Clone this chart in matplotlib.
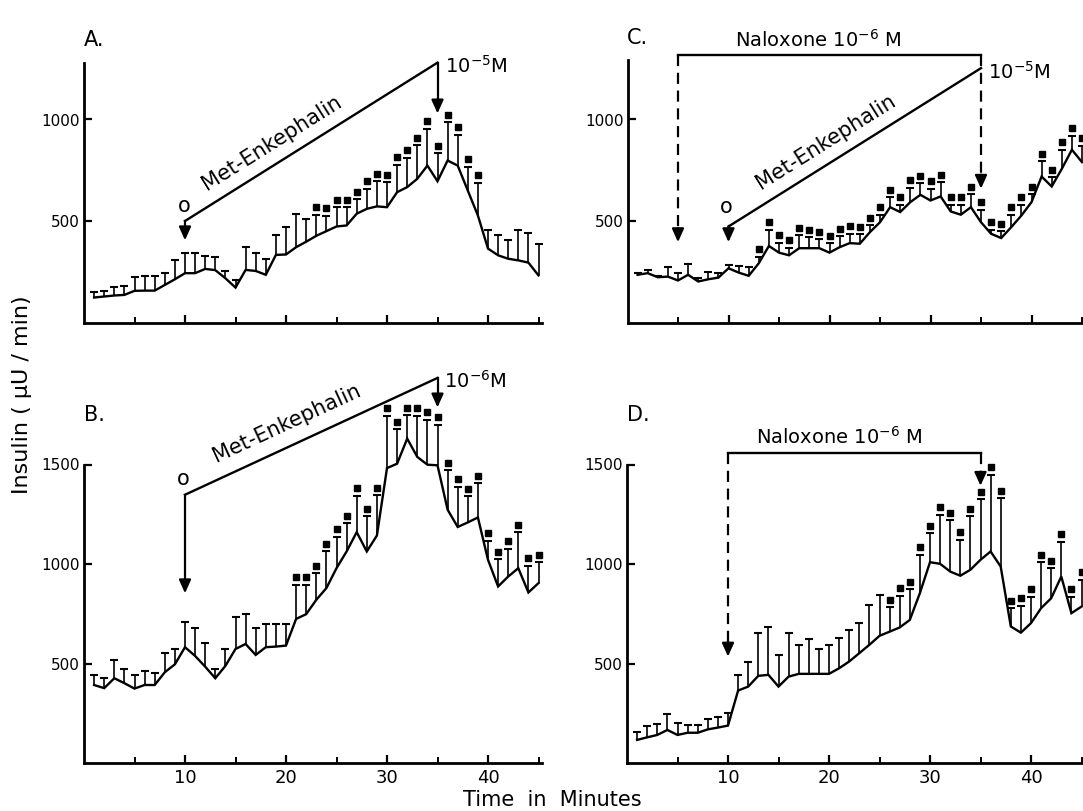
import math
import matplotlib
matplotlib.use("Agg")
import matplotlib.pyplot as plt
from matplotlib.transforms import ScaledTranslation

W, H, DPI = 1083, 811, 100
plt.rcParams['font.family'] = ['DejaVu Sans']

minutes = list(range(1, 46))

# Panel A: Met-Enkephalin 10^-5 M
a_mean = [123, 128, 133, 136, 156, 157, 157, 185, 213, 243, 243, 264, 258, 218, 172,
          259, 254, 235, 333, 335, 371, 398, 427, 450, 473, 478, 536, 560, 572, 568,
          642, 667, 708, 773, 696, 798, 773, 650, 527, 364, 331, 314, 306, 295, 232]
a_top = [148, 156, 177, 180, 226, 230, 230, 243, 308, 341, 341, 328, 325, 256, 210,
         371, 341, 313, 431, 472, 535, 509, 530, 527, 568, 568, 606, 659, 695, 691,
         778, 811, 872, 954, 834, 987, 926, 768, 688, 454, 432, 408, 454, 440, 385]
a_sig = list(range(23, 40))

# Panel B: Met-Enkephalin 10^-6 M
b_mean = [392, 376, 426, 401, 374, 392, 392, 456, 496, 582, 538, 484, 426, 488, 573,
          598, 543, 582, 585, 590, 724, 748, 820, 879, 979, 1063, 1160, 1063, 1143, 1482,
          1504, 1630, 1538, 1499, 1496, 1273, 1186, 1209, 1234, 1021, 887, 937, 979, 857, 904]
b_top = [441, 429, 518, 471, 441, 463, 454, 555, 573, 711, 677, 602, 474, 572, 733,
         748, 677, 699, 699, 699, 895, 895, 954, 1063, 1138, 1206, 1343, 1239, 1345, 1745,
         1678, 1747, 1745, 1725, 1700, 1470, 1387, 1340, 1407, 1118, 1025, 1076, 1160, 991, 1010]
b_sig = list(range(21, 46))

# Panel C: Naloxone 10^-6 M + Met-Enkephalin 10^-5 M
c_mean = [235, 243, 223, 226, 207, 235, 202, 213, 221, 267, 246, 230, 292, 377, 344,
          331, 366, 366, 366, 344, 371, 391, 388, 445, 494, 568, 544, 593, 629, 601,
          621, 547, 531, 568, 494, 437, 416, 470, 527, 593, 719, 670, 757, 851, 790]
c_top = [243, 259, 230, 272, 246, 289, 218, 251, 243, 284, 276, 272, 325, 456, 394,
         369, 431, 420, 410, 391, 426, 438, 434, 478, 532, 617, 581, 664, 686, 658,
         691, 581, 581, 631, 555, 457, 450, 532, 581, 631, 795, 716, 851, 921, 870]
c_sig = list(range(13, 46))

# Panel D: Naloxone 10^-6 M
d_mean = [116, 129, 141, 166, 141, 152, 152, 169, 178, 188, 364, 384, 438, 443, 384,
          434, 448, 448, 448, 448, 476, 510, 552, 594, 639, 660, 681, 719, 854, 1009,
          1001, 962, 941, 971, 1021, 1063, 987, 686, 655, 703, 778, 828, 937, 753, 786]
d_top = [158, 186, 196, 245, 200, 191, 191, 221, 233, 250, 443, 510, 655, 682, 543,
         652, 594, 622, 573, 594, 627, 667, 706, 795, 845, 783, 840, 874, 1046, 1155,
         1247, 1219, 1122, 1239, 1326, 1449, 1331, 778, 790, 836, 1008, 979, 1113, 836, 920]
d_sig = list(range(26, 46))

x_major = [10, 20, 30, 40]
x_minor = [5, 15, 25, 35, 45]
x_labels = ['10', '20', '30', '40']

PX_MIN = 10.1
fig = plt.figure(figsize=(W / DPI, H / DPI), dpi=DPI)


def make_axes(left_px, base_px, xmax, ymax, px_per_unit, yticks, spine_top, xlabels):
    wpx = xmax * PX_MIN
    hpx = ymax * px_per_unit
    ax = fig.add_axes([left_px / W, (H - base_px) / H, wpx / W, hpx / H])
    ax.set_xlim(0, xmax)
    ax.set_ylim(0, ymax)
    for s in ('top', 'right'):
        ax.spines[s].set_visible(False)
    for s in ('left', 'bottom'):
        ax.spines[s].set_linewidth(2.0)
    ax.spines['left'].set_bounds(0, spine_top)
    ax.set_xticks(x_major)
    ax.set_xticks(x_minor, minor=True)
    ax.set_yticks(yticks)
    ax.set_yticklabels([str(v) for v in yticks])
    ax.tick_params(axis='x', which='major', direction='in', length=6, width=1.6, pad=4,
                   labelsize=13, labelbottom=xlabels)
    ax.tick_params(axis='x', which='minor', direction='in', length=4, width=1.4)
    ax.tick_params(axis='y', direction='in', length=6, width=1.6, pad=3, labelsize=11)
    if xlabels:
        ax.set_xticklabels(x_labels)
    ax.patch.set_alpha(0)
    return ax, px_per_unit


def draw_series(ax, mean, top, sig):
    ax.plot(minutes, mean, color='k', lw=1.7, solid_joinstyle='miter', zorder=3)
    ax.vlines(minutes, mean, top, color='k', lw=1.2, zorder=3)
    ax.plot(minutes, top, ls='none', marker='_', ms=6, mew=1.5, color='k', zorder=3)
    trans = ax.transData + ScaledTranslation(0, 0.075, fig.dpi_scale_trans)
    st = [top[m - 1] for m in sig]
    ax.plot(sig, st, ls='none', marker='s', ms=4.0, color='k', transform=trans,
            clip_on=False, zorder=4)


def down_arrow(ax, ppu, x, y0, tip, dashed=False):
    head_units = 14 / ppu
    ls = (0, (5, 3)) if dashed else '-'
    ax.plot([x, x], [y0, tip + head_units * 0.6], color='k', lw=1.6, ls=ls,
            clip_on=False, zorder=5)
    ax.annotate('', xy=(x, tip), xytext=(x, tip + head_units),
                arrowprops=dict(arrowstyle='-|>,head_length=0.8,head_width=0.36',
                                color='k', lw=1.6, shrinkA=0, shrinkB=0),
                annotation_clip=False, zorder=5)


def rotated_label(ax, p0, p1, tc, d, text, size=15):
    q0 = ax.transData.transform(p0)
    q1 = ax.transData.transform(p1)
    ang = math.atan2(q1[1] - q0[1], q1[0] - q0[0])
    yc = p0[1] + (tc - p0[0]) / (p1[0] - p0[0]) * (p1[1] - p0[1])
    ax.annotate(text, xy=(tc, yc), xytext=(-d * math.sin(ang), d * math.cos(ang)),
                textcoords='offset pixels', rotation=math.degrees(ang),
                rotation_mode='anchor', ha='center', va='bottom', fontsize=size,
                annotation_clip=False)


# ---------- Panel A ----------
axA, pA = make_axes(84, 322.5, 45.3, 1300, 101.5 / 500, [500, 1000], 1280, False)
draw_series(axA, a_mean, a_top, a_sig)
axA.plot([10, 35], [500, 1280], color='k', lw=1.7, clip_on=False)
down_arrow(axA, pA, 10, 500, 405)
down_arrow(axA, pA, 35, 1280, 1030)
axA.text(9.9, 575, 'o', fontsize=15, ha='center', va='center')
axA.text(35.7, 1262, '10$^{-5}$M', fontsize=14, ha='left', va='center')
rotated_label(axA, (10, 500), (35, 1280), 19.6, 10, 'Met-Enkephalin')

# ---------- Panel B ----------
axB, pB = make_axes(84, 763, 45.3, 2000, 99.5 / 500, [500, 1000, 1500], 1500, True)
draw_series(axB, b_mean, b_top, b_sig)
axB.plot([10, 35], [1348, 1935], color='k', lw=1.7, clip_on=False)
down_arrow(axB, pB, 10, 1348, 853)
down_arrow(axB, pB, 35, 1935, 1787)
axB.text(9.8, 1428, 'o', fontsize=15, ha='center', va='center')
axB.text(35.6, 1918, '10$^{-6}$M', fontsize=14, ha='left', va='center')
rotated_label(axB, (10, 1348), (35, 1935), 21, 12, 'Met-Enkephalin')

# ---------- Panel C ----------
axC, pC = make_axes(627.5, 322.5, 46, 1300, 101.5 / 500, [500, 1000], 1295, False)
draw_series(axC, c_mean, c_top, c_sig)
axC.plot([5, 35], [1319, 1319], color='k', lw=1.7, clip_on=False)
down_arrow(axC, pC, 5, 1319, 396, dashed=True)
down_arrow(axC, pC, 35, 1319, 659, dashed=True)
axC.plot([10, 35], [473, 1253], color='k', lw=1.7, clip_on=False)
down_arrow(axC, pC, 10, 473, 396)
axC.text(9.8, 568, 'o', fontsize=15, ha='center', va='center')
axC.text(35.7, 1236, '10$^{-5}$M', fontsize=14, ha='left', va='center')
axC.text(18.9, 1338, 'Naloxone 10$^{-6}$ M', fontsize=14, ha='center', va='bottom')
rotated_label(axC, (10, 473), (35, 1253), 20.7, 10, 'Met-Enkephalin')

# ---------- Panel D ----------
axD, pD = make_axes(627, 763, 46, 2000, 99.5 / 500, [500, 1000, 1500], 1500, True)
draw_series(axD, d_mean, d_top, d_sig)
axD.plot([10, 35], [1558, 1558], color='k', lw=1.7, clip_on=False)
down_arrow(axD, pD, 10, 1558, 535, dashed=True)
down_arrow(axD, pD, 35, 1558, 1393, dashed=True)
axD.text(21, 1585, 'Naloxone 10$^{-6}$ M', fontsize=14, ha='center', va='bottom')

# ---------- Figure labels ----------
fig.text(84 / W, 1 - 40 / H, 'A.', fontsize=15, ha='left', va='center')
fig.text(84 / W, 1 - 415 / H, 'B.', fontsize=15, ha='left', va='center')
fig.text(627 / W, 1 - 38 / H, 'C.', fontsize=15, ha='left', va='center')
fig.text(627 / W, 1 - 415 / H, 'D.', fontsize=15, ha='left', va='center')
fig.text(22 / W, 1 - 395 / H, 'Insulin ( μU / min)', rotation=90, fontsize=16,
         ha='center', va='center')
fig.text(552 / W, 1 - 800 / H, 'Time  in  Minutes', fontsize=15, ha='center', va='center')

fig.savefig('out.png', dpi=DPI, facecolor='white')
